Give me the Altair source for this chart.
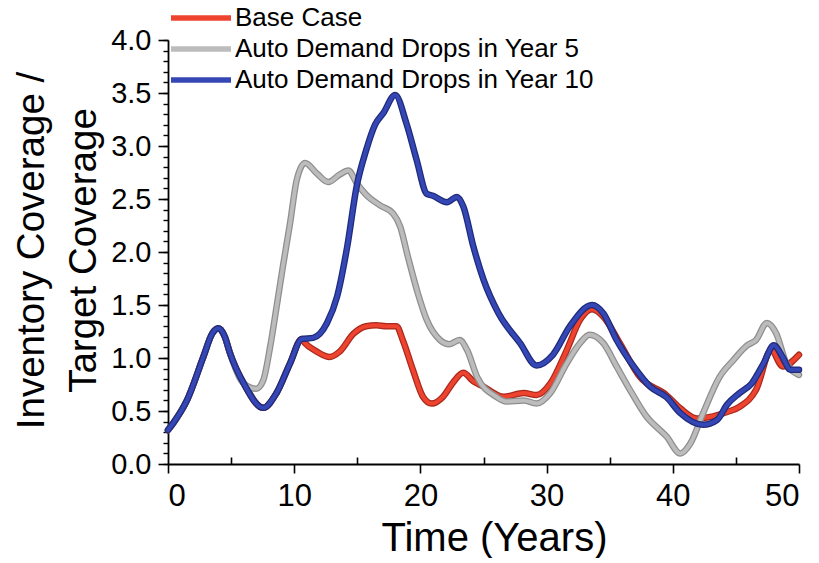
import altair as alt
import pandas as pd

SERIES = ["Base Case", "Auto Demand Drops in Year 5", "Auto Demand Drops in Year 10"]
COLORS = ["#ee432f", "#bcbcbc", "#3447b5"]
EDGES = ["#a82a1c", "#8e8e8e", "#1f2a7a"]

# common start (all three scenarios)
t_common = [0.0, 0.5, 1.5, 2.8, 3.5, 4.0, 4.5, 4.9, 6.0]
v_common = [0.32, 0.40, 0.60, 1.01, 1.23, 1.28, 1.20, 1.05, 0.76]

# base case and year-10 shared section before divergence
t_shared = [7.55, 8.6, 9.67, 10.6]
v_shared = [0.53, 0.67, 0.95, 1.18]

t_base = [10.86, 11.8, 12.8, 13.6, 14.7, 15.7, 16.5, 17.3, 18.1, 18.6, 19.4, 20.2, 20.9,
          21.8, 22.6, 23.4, 24.2, 25.0, 26.6, 28.2, 29.2, 30.3, 31.6, 32.65, 33.6, 34.5,
          35.8, 37.4, 39.5, 40.6, 41.9, 43.2, 44.3, 45.3, 46.6, 47.8, 48.7, 50.0]
v_base = [1.14, 1.06, 1.01, 1.06, 1.23, 1.30, 1.31, 1.30, 1.30, 1.17, 0.89, 0.635, 0.57,
          0.635, 0.77, 0.86, 0.78, 0.73, 0.635, 0.67, 0.65, 0.76, 1.075, 1.36, 1.46, 1.39,
          1.14, 0.82, 0.65, 0.525, 0.43, 0.45, 0.49, 0.54, 0.70, 1.075, 0.92, 1.03]

t_y5 = [7.0, 7.55, 8.1, 8.6, 9.1, 9.67, 10.2, 10.86, 11.8, 12.7, 13.6, 14.3, 14.95, 15.7,
        16.8, 17.85, 18.4, 19.0, 19.8, 20.5, 21.55, 22.3, 23.1, 23.7, 24.5, 26.0, 26.8,
        28.2, 29.2, 30.3, 31.6, 32.65, 33.4, 34.5, 35.55, 36.6, 37.9, 39.5, 40.6, 41.4,
        42.4, 43.7, 44.8, 45.9, 46.6, 47.45, 48.2, 49.0, 50.0]
v_y5 = [0.71, 0.79, 1.11, 1.48, 1.86, 2.27, 2.68, 2.84, 2.74, 2.66, 2.73, 2.77, 2.65, 2.54,
        2.44, 2.36, 2.24, 1.96, 1.61, 1.36, 1.17, 1.13, 1.17, 1.075, 0.82, 0.635, 0.59,
        0.60, 0.57, 0.67, 0.95, 1.14, 1.22, 1.14, 0.92, 0.70, 0.45, 0.26, 0.10, 0.195,
        0.48, 0.82, 0.98, 1.12, 1.17, 1.33, 1.23, 0.95, 0.84]

t_y10 = [11.5, 12.6, 13.4, 14.2, 14.95, 15.7, 16.4, 17.06, 18.0, 18.9, 19.7, 20.5, 21.0,
         22.1, 22.9, 23.4, 24.2, 25.0, 26.2, 27.9, 29.2, 30.5, 31.85, 33.6, 34.5, 35.55,
         36.9, 38.2, 39.5, 40.6, 42.4, 43.5, 44.3, 45.3, 46.25, 47.2, 48.0, 48.7, 49.3, 50.0]
v_y10 = [1.19, 1.33, 1.58, 2.05, 2.62, 2.96, 3.20, 3.31, 3.48, 3.21, 2.87, 2.55, 2.53,
         2.47, 2.52, 2.43, 2.05, 1.74, 1.42, 1.14, 0.93, 1.03, 1.30, 1.50, 1.42, 1.17,
         0.92, 0.73, 0.63, 0.48, 0.37, 0.415, 0.56, 0.67, 0.76, 0.95, 1.12, 1.01, 0.89, 0.89]

x_major = [0, 10, 20, 30, 40, 50]
x_minor = [5, 15, 25, 35, 45]
y_major = [0.0, 0.5, 1.0, 1.5, 2.0, 2.5, 3.0, 3.5, 4.0]
y_minor = [round(i * 0.1, 1) for i in range(41)]

series_points = {
    SERIES[0]: (t_common + t_shared + t_base, v_common + v_shared + v_base),
    SERIES[1]: (t_common + t_y5, v_common + v_y5),
    SERIES[2]: (t_common + t_shared + t_y10, v_common + v_shared + v_y10),
}
rows = []
for name in SERIES:
    ts, vs = series_points[name]
    for t, v in zip(ts, vs):
        rows.append({"t": t, "v": v, "series": name})
df = pd.DataFrame(rows)

FONT = "Liberation Sans"
xscale = alt.Scale(domain=[0, 50], nice=False)
yscale = alt.Scale(domain=[0, 4], nice=False)

x_main = alt.X("t:Q", scale=xscale, axis=alt.Axis(
    values=x_major, orient="bottom", tickSize=9, labelPadding=8,
    labelFontSize=31, labelFont=FONT, labelColor="black",
    title="Time (Years)", titleFontSize=40, titleFont=FONT, titleFontWeight="normal",
    titleColor="black", titleX=326, titleY=86, titleBaseline="alphabetic",
    titleAlign="center", domainColor="black", domainWidth=1.8,
    tickColor="black", tickWidth=1.6, grid=False))
y_main = alt.Y("v:Q", scale=yscale, axis=alt.Axis(
    values=y_major, orient="left", format=".1f", tickSize=10, labelPadding=7,
    labelFontSize=29, labelFont=FONT, labelColor="black",
    title=["Inventory Coverage /", "Target Coverage"], titleFontSize=38.5,
    titleFont=FONT, titleFontWeight="normal", titleColor="black",
    titleX=-125, titleY=210, titleAngle=270, titleBaseline="alphabetic",
    titleAlign="center", titleLineHeight=52,
    domainColor="black", domainWidth=1.8, tickColor="black", tickWidth=1.6,
    grid=False))
x_plain = alt.X("t:Q", scale=xscale, axis=None)
y_plain = alt.Y("v:Q", scale=yscale, axis=None)

legend = alt.Legend(
    title=None, orient="none", legendX=20, legendY=-35,
    symbolType="M-3,0L3,0", symbolSize=400, symbolStrokeWidth=5.5,
    labelFontSize=26, labelFont=FONT, labelColor="black",
    labelLimit=600, labelOffset=21, rowPadding=5)

layers = []
for i, name in enumerate(SERIES):
    sub = alt.Chart(df).transform_filter(alt.datum.series == name)
    edge = sub.mark_line(
        strokeWidth=6.5, interpolate="monotone", strokeCap="round",
        strokeJoin="round", color=EDGES[i]
    ).encode(x=x_plain, y=y_plain)
    core = sub.mark_line(
        strokeWidth=4, interpolate="monotone", strokeCap="round", strokeJoin="round"
    ).encode(
        x=x_main if i == 0 else x_plain,
        y=y_main if i == 0 else y_plain,
        color=alt.Color("series:N", scale=alt.Scale(domain=SERIES, range=COLORS),
                        legend=legend),
    )
    layers += [edge, core]

minor = alt.Chart(df).mark_line(opacity=0).encode(
    x=alt.X("t:Q", scale=xscale, axis=alt.Axis(
        values=x_minor, orient="bottom", offset=-7, tickSize=7, labels=False,
        domain=False, title=None, tickColor="black", tickWidth=1.6, grid=False)),
    y=alt.Y("v:Q", scale=yscale, axis=alt.Axis(
        values=y_minor, orient="left", tickSize=5, labels=False, domain=False,
        title=None, tickColor="black", tickWidth=1.4, grid=False)),
)

chart = alt.layer(*layers, minor).resolve_axis(x="independent", y="independent").properties(
    width=631, height=424,
    background="white",
    autosize=alt.AutoSizeParams(type="none"),
    padding={"left": 160, "top": 32, "right": 12, "bottom": 94},
).configure_view(stroke=None, strokeOpacity=0, strokeWidth=0)

chart.save("out.html", embed_options={"renderer": "svg", "actions": False})
